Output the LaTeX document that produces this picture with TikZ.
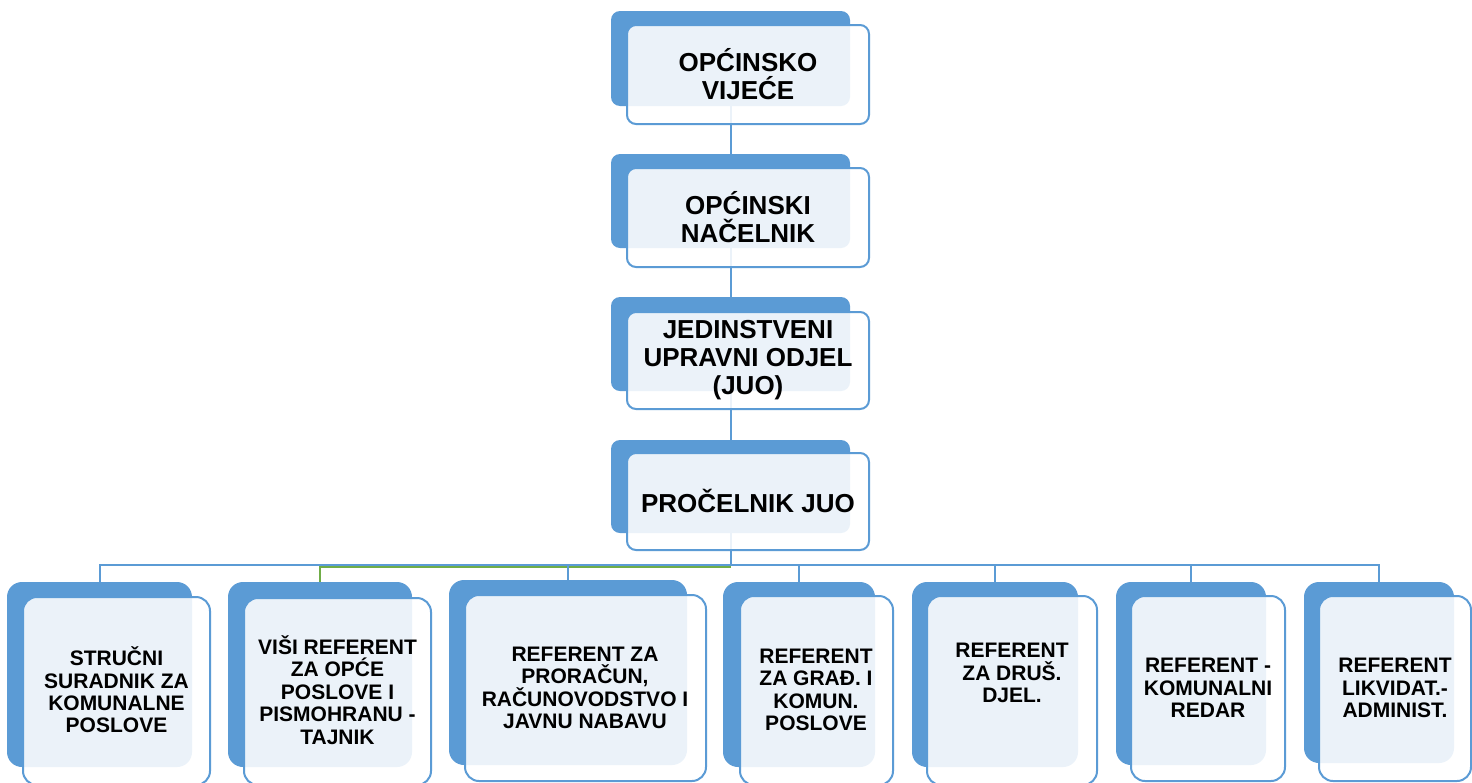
\documentclass[tikz,border=0pt]{standalone}
\usepackage{fontspec}
\setmainfont{Liberation Sans}
\usetikzlibrary{fit}
\definecolor{acc}{HTML}{5B9BD5}
\definecolor{grn}{HTML}{70AD47}
\pgfdeclarelayer{paper}
\pgfdeclarelayer{bg}
\pgfsetlayers{paper,bg,main}
\tikzset{
  backT/.style={draw=none, fill=acc, rounded corners=4.5pt, inner sep=0pt},
  frontT/.style={draw=acc, line width=1pt, fill=white, fill opacity=0.88, rounded corners=4.5pt, inner sep=0pt},
  backB/.style={draw=none, fill=acc, rounded corners=7.5pt, inner sep=0pt},
  frontB/.style={draw=acc, line width=1pt, fill=white, fill opacity=0.88, rounded corners=7pt, inner sep=0pt},
  tT/.style={font=\bfseries\fontsize{13}{14}\selectfont, align=center, inner sep=0pt},
  tB/.style={font=\bfseries\fontsize{10.5}{11.2}\selectfont, align=center, inner sep=0pt},
  conn/.style={draw=acc, line width=1pt},
  conng/.style={draw=grn, line width=0.8pt},
}
\begin{document}
\begin{tikzpicture}[x=0.5pt,y=-0.5pt]
\useasboundingbox (0,0) rectangle (1472,782);
\begin{pgfonlayer}{paper}
\fill[white] (0,0) rectangle (1472,782);
\end{pgfonlayer}
% top chain
\node[backT, fit={(611,11)(850,106)}] (b1) {};
\node[frontT, fit={(627,25)(869,124)}] (f1) {};
\node[tT] (t1) at (748,74.5) {OPĆINSKO\\VIJEĆE};
\node[backT, fit={(611,154)(850,248)}] (b2) {};
\node[frontT, fit={(627,168)(869,267)}] (f2) {};
\node[tT] (t2) at (748,217) {OPĆINSKI\\NAČELNIK};
\node[backT, fit={(611,297)(850,391)}] (b3) {};
\node[frontT, fit={(627,312)(869,409)}] (f3) {};
\node[tT] (t3) at (748,360) {JEDINSTVENI\\UPRAVNI ODJEL\\(JUO)};
\node[backT, fit={(611,440)(850,533)}] (b4) {};
\node[frontT, fit={(627,453)(869,550)}] (f4) {};
\node[tT] (t4) at (748,501) {PROČELNIK JUO};
% bottom row
\node[backB, fit={(7,582)(192,767)}] (bA) {};
\node[frontB, fit={(23,597)(210,785)}] (fA) {};
\node[tB] (tA) at (116.5,690) {STRUČNI\\SURADNIK ZA\\KOMUNALNE\\POSLOVE};
\node[backB, fit={(228,582)(412,767)}] (bB) {};
\node[frontB, fit={(244,598)(431,785)}] (fB) {};
\node[tB] (tBx) at (337.5,690) {VIŠI REFERENT\\ZA OPĆE\\POSLOVE I\\PISMOHRANU -\\TAJNIK};
\node[backB, fit={(449,580)(687,765)}] (bC) {};
\node[frontB, fit={(465,595)(706,781)}] (fC) {};
\node[tB] (tC) at (585,688) {REFERENT ZA\\PRORAČUN,\\RAČUNOVODSTVO I\\JAVNU NABAVU};
\node[backB, fit={(723,582)(875,767)}] (bD) {};
\node[frontB, fit={(740,596)(893,785)}] (fD) {};
\node[tB] (tD) at (816,690) {REFERENT\\ZA GRAĐ. I\\KOMUN.\\POSLOVE};
\node[backB, fit={(912,582)(1078,767)}] (bE) {};
\node[frontB, fit={(927,596)(1097,785)}] (fE) {};
\node[tB] (tE) at (1012,673) {REFERENT\\ZA DRUŠ.\\DJEL.};
\node[backB, fit={(1116,582)(1266,765)}] (bF) {};
\node[frontB, fit={(1131,596)(1285,781)}] (fF) {};
\node[tB] (tF) at (1208,688) {REFERENT -\\KOMUNALNI\\REDAR};
\node[backB, fit={(1304,582)(1454,763)}] (bG) {};
\node[frontB, fit={(1319,596)(1471,781)}] (fG) {};
\node[tB] (tG) at (1395,688) {REFERENT\\LIKVIDAT.-\\ADMINIST.};
\coordinate (bus) at (0,565);
\coordinate (busg) at (0,566.8);
\begin{pgfonlayer}{bg}
\draw[conn] (b1.center) -- (b2.center);
\draw[conn] (b2.center) -- (b3.center);
\draw[conn] (b3.center) -- (b4.center);
\draw[conng] (b4.center) -- (b4.center |- busg) -| (bB.center);
\draw[conn] (b4.center) -- (b4.center |- bus) -| (bA.center);
\draw[conn] (b4.center |- bus) -| (bC.center);
\draw[conn] (b4.center |- bus) -| (bD.center);
\draw[conn] (b4.center |- bus) -| (bE.center);
\draw[conn] (b4.center |- bus) -| (bF.center);
\draw[conn] (b4.center |- bus) -| (bG.center);
\end{pgfonlayer}
\end{tikzpicture}
\end{document}
